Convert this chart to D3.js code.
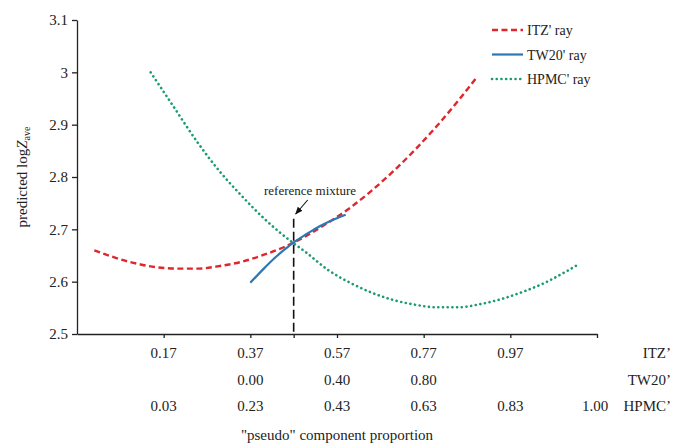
<!DOCTYPE html>
<html>
<head>
<meta charset="utf-8">
<script src="https://cdn.jsdelivr.net/npm/d3@7"></script>
<style>
  html, body { margin: 0; padding: 0; background: #fff; }
  svg { display: block; }
  text { font-family: "Liberation Serif", "Times New Roman", serif; fill: #222; }
</style>
</head>
<body>
<svg id="chart" width="673" height="446"></svg>
<script>
// ---- data (x = ITZ' pseudo component proportion) ----
const itzX = [0.01, 0.05, 0.10, 0.15, 0.20, 0.25, 0.30, 0.35, 0.40, 0.45, 0.50, 0.55, 0.60, 0.65, 0.70, 0.75, 0.80, 0.85, 0.89];
const itzY = [2.660, 2.648, 2.636, 2.628, 2.625, 2.625, 2.630, 2.638, 2.651, 2.667, 2.688, 2.713, 2.741, 2.774, 2.811, 2.852, 2.897, 2.946, 2.988];

const tw20X = [0.37, 0.40, 0.43, 0.45, 0.47, 0.50, 0.53, 0.56, 0.59];
const tw20Y = [2.598, 2.624, 2.648, 2.662, 2.675, 2.691, 2.706, 2.718, 2.728];

const hpmcX = [0.14, 0.19, 0.25, 0.30, 0.35, 0.40, 0.45, 0.50, 0.55, 0.60, 0.65, 0.70, 0.75, 0.80, 0.85, 0.90, 0.95, 1.00, 1.05, 1.10, 1.125];
const hpmcY = [3.000, 2.938, 2.864, 2.810, 2.764, 2.722, 2.686, 2.655, 2.622, 2.598, 2.579, 2.565, 2.556, 2.551, 2.551, 2.557, 2.567, 2.581, 2.598, 2.620, 2.632];

const refMixtureX = 0.47;
const refMixtureTop = 2.72;

const yTickValues = [2.5, 2.6, 2.7, 2.8, 2.9, 3.0, 3.1];
const yTickLabels = ["2.5", "2.6", "2.7", "2.8", "2.9", "3", "3.1"];

const xTickValues = [0.17, 0.37, 0.47, 0.57, 0.77, 0.97, 1.17];

const itzRowPos = [0.17, 0.37, 0.57, 0.77, 0.97];
const itzRowLabels = ["0.17", "0.37", "0.57", "0.77", "0.97"];
const tw20RowPos = [0.37, 0.57, 0.77];
const tw20RowLabels = ["0.00", "0.40", "0.80"];
const hpmcRowPos = [0.17, 0.37, 0.57, 0.77, 0.97, 1.17];
const hpmcRowLabels = ["0.03", "0.23", "0.43", "0.63", "0.83", "1.00"];

const seriesNames = ["ITZ' ray", "TW20' ray", "HPMC' ray"];
const rowNames = ["ITZ’", "TW20’", "HPMC’"];

// ---- layout ----
const svg = d3.select("#chart");
const x = d3.scaleLinear().domain([-0.03, 1.17]).range([77, 597]);
const y = d3.scaleLinear().domain([2.5, 3.1]).range([334, 20]);

const colors = { itz: "#e0262c", tw: "#2b78b6", hpmc: "#1a9c6e" };

// y axis
const yAxis = d3.axisLeft(y).tickValues(yTickValues)
  .tickFormat((d, i) => yTickLabels[i]).tickSize(5).tickSizeOuter(0).tickPadding(4);
const gy = svg.append("g").attr("transform", `translate(${x.range()[0]},0)`).call(yAxis);
gy.selectAll("path, line").attr("stroke", "#222").attr("stroke-width", 1.3);
gy.selectAll("text").style("font-size", "15px").style("font-family", "Liberation Serif").attr("fill", "#222");

// x axis
const xAxis = d3.axisBottom(x).tickValues(xTickValues).tickFormat("").tickSize(4).tickSizeOuter(0);
const gx = svg.append("g").attr("transform", `translate(0,${y.range()[0]})`).call(xAxis);
gx.selectAll("path, line").attr("stroke", "#222").attr("stroke-width", 1.3);

// bottom label rows
const rows = [
  { pos: itzRowPos, labels: itzRowLabels, yy: 358 },
  { pos: tw20RowPos, labels: tw20RowLabels, yy: 385 },
  { pos: hpmcRowPos, labels: hpmcRowLabels, yy: 411 }
];
rows.forEach((r, ri) => {
  svg.append("g").selectAll("text").data(r.labels).join("text")
    .attr("x", (d, i) => x(r.pos[i]) - (ri === 2 && i === r.labels.length - 1 ? 2 : 0))
    .attr("y", r.yy)
    .attr("text-anchor", "middle")
    .style("font-size", "15px")
    .text(d => d);
  svg.append("text").attr("x", 671).attr("y", r.yy).attr("text-anchor", "end")
    .style("font-size", "15px").text(rowNames[ri]);
});

svg.append("text").attr("x", (x.range()[0] + x.range()[1]) / 2).attr("y", 440)
  .attr("text-anchor", "middle").style("font-size", "15px")
  .text("\"pseudo\" component proportion");

// y title
const yt = svg.append("text")
  .attr("transform", `translate(27,${(y.range()[0] + y.range()[1]) / 2}) rotate(-90)`)
  .attr("text-anchor", "middle").style("font-size", "15px");
yt.append("tspan").text("predicted log");
yt.append("tspan").attr("font-style", "italic").text("Z");
yt.append("tspan").attr("dy", 3).style("font-size", "10px").text("ave");

// lines
const line = d3.line().x(d => x(d[0])).y(d => y(d[1])).curve(d3.curveMonotoneX);
const itzData = d3.zip(itzX, itzY);
const twData = d3.zip(tw20X, tw20Y);
const hpmcData = d3.zip(hpmcX, hpmcY);

svg.append("path").datum(hpmcData).attr("d", line).attr("fill", "none")
  .attr("stroke", colors.hpmc).attr("stroke-width", 2.6)
  .attr("stroke-linecap", "round").attr("stroke-dasharray", "0.1 4.6");

svg.append("path").datum(itzData).attr("d", line).attr("fill", "none")
  .attr("stroke", colors.itz).attr("stroke-width", 2.4)
  .attr("stroke-dasharray", "6 3.5");

svg.append("path").datum(twData).attr("d", line).attr("fill", "none")
  .attr("stroke", colors.tw).attr("stroke-width", 2.2);

// reference mixture line
svg.append("line")
  .attr("x1", x(refMixtureX)).attr("x2", x(refMixtureX))
  .attr("y1", y(refMixtureTop)).attr("y2", y(2.5))
  .attr("stroke", "#111").attr("stroke-width", 1.6).attr("stroke-dasharray", "9 4");

// annotation
svg.append("defs").append("marker").attr("id", "arr")
  .attr("viewBox", "0 0 10 10").attr("refX", 9).attr("refY", 5)
  .attr("markerWidth", 7).attr("markerHeight", 7).attr("orient", "auto")
  .append("path").attr("d", "M0,1 L10,5 L0,9 Z").attr("fill", "#111");
svg.append("line").attr("x1", x(refMixtureX) + 14).attr("y1", 200)
  .attr("x2", x(refMixtureX) + 2).attr("y2", 214)
  .attr("stroke", "#111").attr("stroke-width", 1.1).attr("marker-end", "url(#arr)");
svg.append("text").attr("x", 310).attr("y", 195).attr("text-anchor", "middle")
  .style("font-size", "13px").text("reference mixture");

// legend
const legend = [
  { name: seriesNames[0], color: colors.itz, dash: "6 3.5", w: 2.4, cap: "butt", yy: 30 },
  { name: seriesNames[1], color: colors.tw, dash: null, w: 2.2, cap: "butt", yy: 54.5 },
  { name: seriesNames[2], color: colors.hpmc, dash: "0.1 4.6", w: 2.6, cap: "round", yy: 79 }
];
const lg = svg.append("g");
legend.forEach(l => {
  lg.append("line").attr("x1", 492).attr("x2", 523).attr("y1", l.yy).attr("y2", l.yy)
    .attr("stroke", l.color).attr("stroke-width", l.w).attr("stroke-linecap", l.cap)
    .attr("stroke-dasharray", l.dash);
  lg.append("text").attr("x", 527).attr("y", l.yy + 5).style("font-size", "14px").text(l.name);
});
</script>
</body>
</html>
